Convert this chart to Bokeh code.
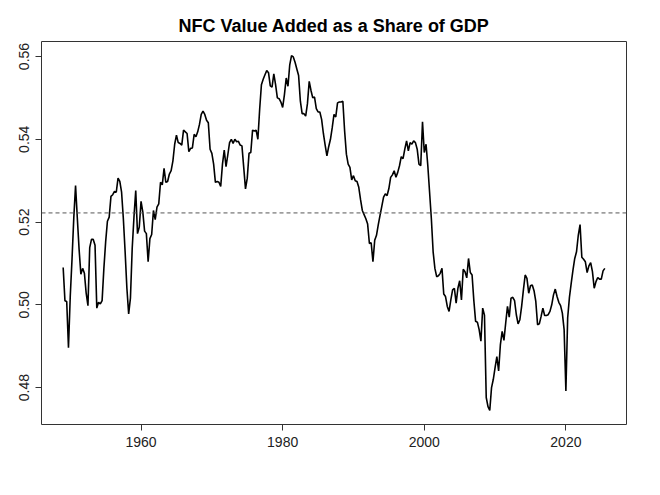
from bokeh.plotting import figure
from bokeh.models import Range1d, FixedTicker, PrintfTickFormatter, Span
from bokeh.embed import file_html
from bokeh.resources import INLINE

# ---- data (quarterly, 1949Q1 onward) ----
start_year = 1949.0
nfc_share = [
    0.5090, 0.5010, 0.5008, 0.4896, 0.5020, 0.5110, 0.5210, 0.5288,
    0.5209, 0.5134, 0.5074, 0.5088, 0.5076, 0.5028, 0.4998, 0.5138,
    0.5158, 0.5158, 0.5144, 0.4992, 0.5006, 0.5002, 0.5010, 0.5088,
    0.5152, 0.5202, 0.5212, 0.5262, 0.5266, 0.5274, 0.5272, 0.5306,
    0.5298, 0.5272, 0.5208, 0.5128, 0.5040, 0.4978, 0.5016, 0.5136,
    0.5212, 0.5276, 0.5172, 0.5188, 0.5250, 0.5224, 0.5178, 0.5172,
    0.5104, 0.5160, 0.5170, 0.5228, 0.5206, 0.5236, 0.5244, 0.5296,
    0.5290, 0.5330, 0.5296, 0.5298, 0.5316, 0.5324, 0.5348, 0.5388,
    0.5410, 0.5392, 0.5390, 0.5386, 0.5422, 0.5418, 0.5414, 0.5370,
    0.5378, 0.5379, 0.5412, 0.5406, 0.5418, 0.5436, 0.5460, 0.5468,
    0.5460, 0.5446, 0.5440, 0.5376, 0.5366, 0.5340, 0.5296, 0.5298,
    0.5296, 0.5286, 0.5340, 0.5374, 0.5334, 0.5362, 0.5392, 0.5400,
    0.5390, 0.5400, 0.5394, 0.5395, 0.5386, 0.5384, 0.5332, 0.5280,
    0.5306, 0.5366, 0.5368, 0.5422, 0.5420, 0.5422, 0.5400, 0.5472,
    0.5532, 0.5545, 0.5556, 0.5566, 0.5561, 0.5529, 0.5526, 0.5558,
    0.5532, 0.5500, 0.5498, 0.5490, 0.5477, 0.5508, 0.5548, 0.5528,
    0.5580, 0.5602, 0.5599, 0.5586, 0.5570, 0.5554, 0.5492, 0.5462,
    0.5462, 0.5456, 0.5486, 0.5540, 0.5518, 0.5500, 0.5502, 0.5474,
    0.5466, 0.5466, 0.5448, 0.5414, 0.5386, 0.5360, 0.5382, 0.5400,
    0.5428, 0.5460, 0.5454, 0.5488, 0.5490, 0.5490, 0.5492, 0.5420,
    0.5364, 0.5340, 0.5332, 0.5302, 0.5312, 0.5300, 0.5298, 0.5284,
    0.5254, 0.5228, 0.5218, 0.5208, 0.5195, 0.5148, 0.5150, 0.5104,
    0.5156, 0.5168, 0.5193, 0.5216, 0.5238, 0.5260, 0.5268, 0.5264,
    0.5281, 0.5308, 0.5314, 0.5324, 0.5308, 0.5320, 0.5336, 0.5358,
    0.5353, 0.5376, 0.5396, 0.5372, 0.5392, 0.5388, 0.5396, 0.5392,
    0.5376, 0.5340, 0.5336, 0.5442, 0.5368, 0.5388, 0.5336, 0.5272,
    0.5208, 0.5128, 0.5088, 0.5068, 0.5070, 0.5076, 0.5088, 0.5026,
    0.5020, 0.4996, 0.4984, 0.5012, 0.5036, 0.5040, 0.5004, 0.5040,
    0.5058, 0.5012, 0.5086, 0.5080, 0.5065, 0.5112, 0.5078, 0.5072,
    0.5010, 0.4960, 0.4958, 0.4940, 0.4912, 0.4992, 0.4975, 0.4776,
    0.4754, 0.4745, 0.4800, 0.4820, 0.4848, 0.4875, 0.4840, 0.4904,
    0.4936, 0.4914, 0.4956, 0.4996, 0.4970, 0.5016, 0.5018, 0.5010,
    0.4976, 0.4954, 0.4964, 0.4996, 0.5036, 0.5072, 0.5064, 0.5028,
    0.5046, 0.5048, 0.5034, 0.5008, 0.4952, 0.4954, 0.4972, 0.4992,
    0.4974, 0.4974, 0.4976, 0.4984, 0.5000, 0.5024, 0.5038, 0.5020,
    0.5006, 0.4998, 0.4980, 0.4940, 0.4792, 0.4968, 0.5018, 0.5052,
    0.5084, 0.5112, 0.5128, 0.5168, 0.5194, 0.5115, 0.5110, 0.5104,
    0.5078, 0.5094, 0.5102, 0.5080, 0.5040, 0.5056, 0.5066, 0.5062,
    0.5062, 0.5082, 0.5088,
]
years = [start_year + q / 4.0 for q in range(len(nfc_share))]
reference_level = 0.5222
x_ticks = [1960, 1980, 2000, 2020]
y_ticks = [0.48, 0.50, 0.52, 0.54, 0.56]
title_text = "NFC Value Added as a Share of GDP"

# R-style 4% axis padding
xpad = 0.04 * (years[-1] - years[0])
ypad = 0.04 * (max(nfc_share) - min(nfc_share))

FONT = "Liberation Sans"

p = figure(width=644, height=470, output_backend="svg", toolbar_location=None,
           x_range=Range1d(years[0] - xpad, years[-1] + xpad),
           y_range=Range1d(min(nfc_share) - ypad, max(nfc_share) + ypad),
           min_border_left=41, min_border_right=18,
           min_border_top=41, min_border_bottom=46,
           title=title_text)

p.title.text_font = FONT
p.title.text_font_size = "18px"
p.title.text_font_style = "bold"
p.title.text_color = "#000000"
p.title.align = "center"
p.title.standoff = 12

p.background_fill_color = "white"
p.border_fill_color = "white"
p.outline_line_color = "#333333"
p.outline_line_width = 1
p.xgrid.visible = False
p.ygrid.visible = False

for ax in (p.xaxis[0], p.yaxis[0]):
    ax.axis_line_color = None
    ax.major_tick_line_color = "#333333"
    ax.major_tick_out = 6
    ax.major_tick_in = 0
    ax.minor_tick_line_color = None
    ax.major_label_text_font = FONT
    ax.major_label_text_font_size = "14px"
    ax.major_label_text_color = "#222222"
    ax.major_label_standoff = 6

p.xaxis[0].ticker = FixedTicker(ticks=x_ticks)
p.yaxis[0].ticker = FixedTicker(ticks=y_ticks)
p.yaxis[0].formatter = PrintfTickFormatter(format="%.2f")
p.yaxis[0].major_label_orientation = "vertical"

p.add_layout(Span(location=reference_level, dimension="width",
                  line_color="#555555", line_width=1, line_dash="4 3"))

p.line(years, nfc_share, line_color="black", line_width=1.6)

open("out.html", "w").write(file_html(p, INLINE))
